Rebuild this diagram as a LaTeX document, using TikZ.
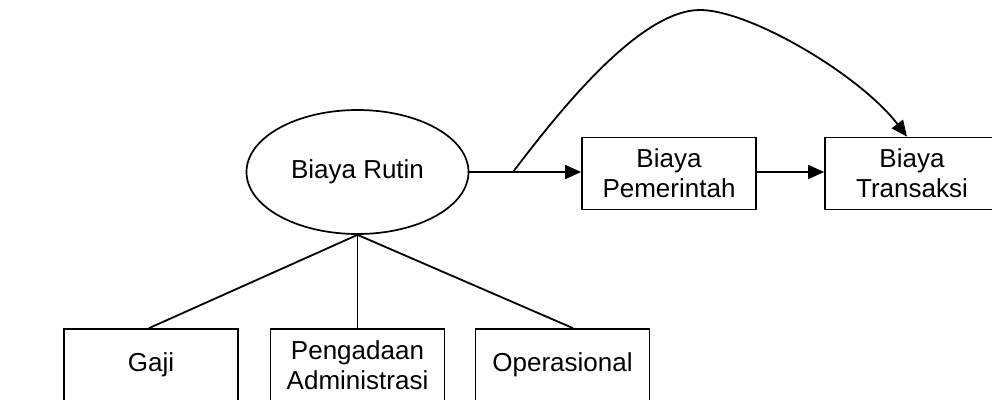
\documentclass[tikz,border=0pt]{standalone}
\usepackage{fontspec}
\setmainfont{Liberation Sans}
\usetikzlibrary{arrows.meta,shapes.geometric}
\begin{document}
\begin{tikzpicture}[x=1pt,y=-1pt,
  every node/.style={font=\fontsize{26}{30}\selectfont, inner sep=0pt},
  costbox/.style={draw, line width=1.7pt, rectangle, minimum width=174pt, minimum height=72pt, align=center},
  link/.style={line width=1.8pt},
  flow/.style={line width=1.8pt, -{Triangle[length=16pt,width=14pt]}}]
  \clip (0,0) rectangle (992,399);
  \fill[white] (0,0) rectangle (992,399);

  % central ellipse
  \node[draw, line width=1.7pt, ellipse, minimum width=222pt, minimum height=124pt] (rutin) at (357.5,172) {Biaya Rutin};

  % upper row
  \node[costbox] (pem) at (669,173.5) {Biaya\\Pemerintah};
  \node[costbox] (trans) at (912,173.5) {Biaya\\Transaksi};

  % lower row
  \node[costbox] (gaji) at (151,365) {Gaji};
  \node[costbox] (adm) at (357.5,365) {Pengadaan\\Administrasi};
  \node[costbox] (ops) at (562.5,365) {Operasional};

  % flows
  \draw[flow] (rutin.east) -- (rutin.east -| pem.west);
  \draw[flow] (pem.east |- 0,172) -- (trans.west |- 0,172);
  \coordinate (cstart) at (513,172);
  \coordinate (peak) at (700,10);
  \draw[flow] (cstart) .. controls (560,110) and (640,10) .. (peak)
              .. controls (750,10) and (860,75) .. ([xshift=-5pt]trans.north);

  % breakdown lines
  \draw[link] (rutin.south) -- ([xshift=-2pt]gaji.north);
  \draw[link] (rutin.south) -- (adm.north);
  \draw[link] (rutin.south) -- ([xshift=10.5pt]ops.north);
\end{tikzpicture}
\end{document}
